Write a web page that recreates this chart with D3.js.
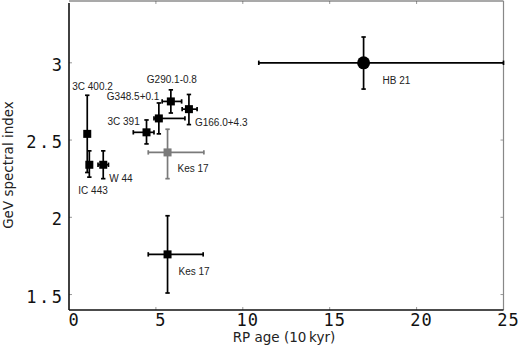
<!DOCTYPE html>
<html><head><meta charset="utf-8">
<script src="https://cdn.jsdelivr.net/npm/d3@7"></script>
<style>
html,body{margin:0;padding:0;background:#fff;}
svg{display:block;}
</style></head>
<body>
<svg id="chart" width="520" height="349"></svg>
<script>
// ---- data ----
const sources   = ["3C 400.2","IC 443","W 44","3C 391","G348.5+0.1","G290.1-0.8","G166.0+4.3","Kes 17","Kes 17","HB 21"];
const age       = [1.05, 1.17, 1.97, 4.46, 5.17, 5.86, 6.90, 5.67, 5.67, 16.95];
const ageErrLo  = [0, 0, 0.3, 0.76, 0.28, 0.50, 0.39, 1.11, 1.11, 6.03];
const ageErrHi  = [0, 0, 0.3, 0.43, 1.50, 0.62, 0.47, 2.09, 2.05, 8.05];
const gevIndex  = [2.54, 2.34, 2.34, 2.55, 2.64, 2.75, 2.70, 2.42, 1.76, 3.00];
const idxErrLo  = [0.25, 0.08, 0.09, 0.075, 0.10, 0.075, 0.10, 0.17, 0.25, 0.17];
const idxErrHi  = [0.25, 0.09, 0.09, 0.08, 0.10, 0.075, 0.095, 0.15, 0.25, 0.167];
const marker    = ["square","square","square","square","square","square","square","square","square","circle"];
const group     = ["black","black","black","black","black","black","black","gray","black","black"];
const xTicks    = [0, 5, 10, 15, 20, 25];
const yTicks    = [1.5, 2, 2.5, 3];
const yTickLabels = ["1.5","2","2.5","3"];
// label offsets in px (layout only)
const labelDx = [-15, -11, 6, -39, -52, -24, 6, 10, 11, 19];
const labelDy = [-47, 26, 14, -11, -22, -22, 13, 16, 17, 18];

const svg = d3.select("#chart");
const L = 69, R = 503.5, T = 1, B = 310;
const x = d3.scaleLinear().domain([0, 25]).range([L, R]);
const y = d3.scaleLinear().domain([1.4, 3.4]).range([B, T]);
const colorOf = g => g === "gray" ? "#7a7a7a" : "#000";

// inner ticks (light)
const tickCol = "#999";
const g = svg.append("g");
xTicks.slice(1, -1).forEach(v => {
  g.append("line").attr("x1", x(v)).attr("x2", x(v)).attr("y1", B).attr("y2", B - 3).attr("stroke", tickCol);
  g.append("line").attr("x1", x(v)).attr("x2", x(v)).attr("y1", T).attr("y2", T + 3).attr("stroke", tickCol);
});
yTicks.forEach(v => {
  g.append("line").attr("x1", L).attr("x2", L + 3).attr("y1", y(v)).attr("y2", y(v)).attr("stroke", tickCol);
  g.append("line").attr("x1", R).attr("x2", R - 3).attr("y1", y(v)).attr("y2", y(v)).attr("stroke", tickCol);
});

// frame
svg.append("line").attr("x1", L).attr("x2", R).attr("y1", T).attr("y2", T).attr("stroke", "#555").attr("stroke-width", 1.2);
svg.append("line").attr("x1", R).attr("x2", R).attr("y1", T).attr("y2", B).attr("stroke", "#888").attr("stroke-width", 1.2);
svg.append("line").attr("x1", L).attr("x2", L).attr("y1", T + 2).attr("y2", B).attr("stroke", "#111").attr("stroke-width", 1.6);
svg.append("line").attr("x1", L).attr("x2", R).attr("y1", B).attr("y2", B).attr("stroke", "#111").attr("stroke-width", 1.6);

// tick labels
const tickFont = "'DejaVu Sans Mono', monospace";
xTicks.forEach(v => {
  svg.append("text").attr("x", x(v) + 5).attr("y", 326)
    .attr("text-anchor", "middle").attr("font-family", tickFont).attr("font-size", 17)
    .attr("letter-spacing", 1).attr("fill", "#111").text(v);
});
yTicks.forEach((v, i) => {
  svg.append("text").attr("x", 64.5).attr("y", y(v) + 8)
    .attr("text-anchor", "end").attr("font-family", tickFont).attr("font-size", 17)
    .attr("letter-spacing", 2.5).attr("fill", "#111").text(yTickLabels[i]);
});

// axis titles
svg.append("text").attr("x", 284).attr("y", 342).attr("text-anchor", "middle")
  .attr("font-family", "'DejaVu Sans', sans-serif").attr("font-size", 13.5).attr("fill", "#222")
  .text("RP age (10\u2009kyr)");
svg.append("text").attr("transform", "translate(13,165) rotate(-90)").attr("text-anchor", "middle")
  .attr("font-family", "'DejaVu Sans', sans-serif").attr("font-size", 13.5).attr("fill", "#222")
  .text("GeV spectral index");

// error bars and markers
const data = sources.map((s, i) => ({
  s, x: age[i], xl: ageErrLo[i], xh: ageErrHi[i], y: gevIndex[i], yl: idxErrLo[i], yh: idxErrHi[i],
  m: marker[i], c: colorOf(group[i]), dx: labelDx[i], dy: labelDy[i]
}));
const cap = 2.2;
const pts = svg.append("g");
data.forEach(d => {
  const gg = pts.append("g").attr("stroke", d.c).attr("fill", d.c).attr("stroke-width", 1.7);
  const px = x(d.x), py = y(d.y);
  if (d.xl > 0 || d.xh > 0) {
    const x1 = x(d.x - d.xl), x2 = x(Math.min(25, d.x + d.xh));
    gg.append("line").attr("x1", x1).attr("x2", x2).attr("y1", py).attr("y2", py);
    gg.append("line").attr("x1", x1).attr("x2", x1).attr("y1", py - cap).attr("y2", py + cap);
    gg.append("line").attr("x1", x2).attr("x2", x2).attr("y1", py - cap).attr("y2", py + cap);
  }
  const y1 = y(d.y + d.yh), y2 = y(d.y - d.yl);
  gg.append("line").attr("x1", px).attr("x2", px).attr("y1", y1).attr("y2", y2);
  gg.append("line").attr("x1", px - cap).attr("x2", px + cap).attr("y1", y1).attr("y2", y1);
  gg.append("line").attr("x1", px - cap).attr("x2", px + cap).attr("y1", y2).attr("y2", y2);
  if (d.m === "circle") {
    gg.append("circle").attr("cx", px).attr("cy", py).attr("r", 6.5).attr("stroke", "none");
  } else {
    gg.append("rect").attr("x", px - 4).attr("y", py - 4).attr("width", 8).attr("height", 8).attr("stroke", "none");
  }
  svg.append("text").attr("x", px + d.dx).attr("y", py + d.dy).attr("dy", "0.35em")
    .attr("font-family", "'Liberation Sans', Arial, sans-serif").attr("font-size", 10)
    .attr("fill", "#222").text(d.s);
});
</script>
</body></html>
